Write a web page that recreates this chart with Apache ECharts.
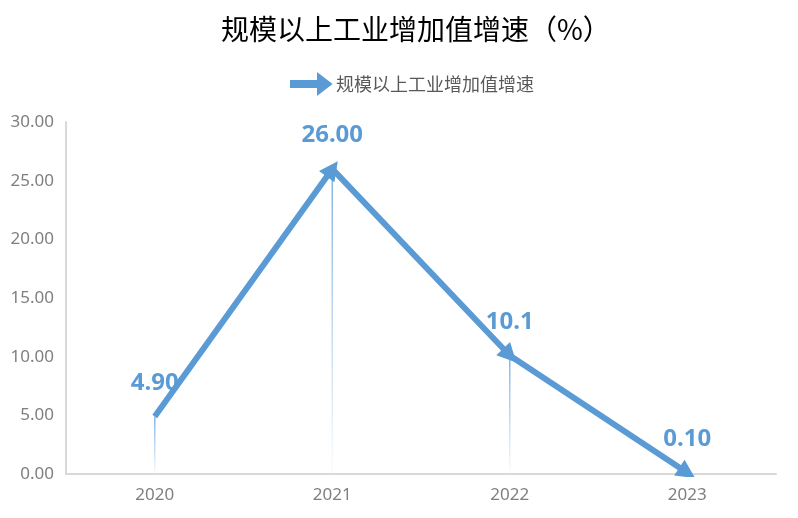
<!DOCTYPE html>
<html>
<head>
<meta charset="utf-8">
<script src="https://cdn.jsdelivr.net/npm/echarts@6/dist/echarts.min.js"></script>
<style>
  html, body { margin: 0; padding: 0; background: #fff; }
  #chart { width: 798px; height: 518px; }
</style>
</head>
<body>
<div id="chart"></div>
<script>
const years = ['2020', '2021', '2022', '2023'];
const growth = [4.9, 26.0, 10.1, 0.1];
const growthLabels = ['4.90', '26.00', '10.1', '0.10'];
const seriesName = '规模以上工业增加值增速';

const blue = '#5B9BD5';
const chart = echarts.init(document.getElementById('chart'));

// one arrow per segment, point to point
let arrows = [];
for (let i = 0; i < growth.length - 1; i++) {
    arrows.push({ coords: [[i, growth[i]], [i + 1, growth[i + 1]]] });
}

const option = {
    animation: false,
    title: {
        text: '规模以上工业增加值增速（%）',
        left: 216,
        top: 10,
        textStyle: {
            fontFamily: 'Noto Sans CJK SC',
            fontSize: 28,
            fontWeight: 'normal',
            color: '#000'
        }
    },
    legend: {
        top: 68,
        left: 285,
        itemWidth: 40,
        itemHeight: 20,
        itemGap: 6,
        data: [{
            name: seriesName,
            icon: 'path://M0,7 L27,7 L27,0 L40,10 L27,20 L27,13 L0,13 Z',
            itemStyle: { color: blue }
        }],
        textStyle: {
            fontFamily: 'Noto Sans CJK SC',
            fontSize: 18,
            color: '#595959'
        }
    },
    grid: {
        left: 66,
        right: 22,
        top: 122,
        bottom: 44
    },
    xAxis: {
        type: 'category',
        data: years,
        boundaryGap: true,
        axisLine: { lineStyle: { color: '#d9d9d9', width: 2 } },
        axisTick: { show: false },
        axisLabel: {
            fontFamily: 'Noto Sans',
            fontSize: 17,
            color: '#7f7f7f',
            margin: 13
        }
    },
    yAxis: {
        type: 'value',
        min: 0,
        max: 30,
        interval: 5,
        axisLine: { show: true, lineStyle: { color: '#d9d9d9', width: 2 } },
        axisTick: { show: false },
        splitLine: { show: false },
        axisLabel: {
            fontFamily: 'Noto Sans',
            fontSize: 17,
            color: '#7f7f7f',
            margin: 12,
            formatter: v => v.toFixed(2)
        }
    },
    series: [
        {
            // thin drop lines fading down to the axis
            type: 'bar',
            barWidth: 1.5,
            silent: true,
            data: growth,
            itemStyle: {
                color: new echarts.graphic.LinearGradient(0, 0, 0, 1, [
                    { offset: 0, color: 'rgba(91,155,213,0.75)' },
                    { offset: 1, color: 'rgba(91,155,213,0.02)' }
                ])
            },
            z: 1
        },
        {
            name: seriesName,
            type: 'lines',
            coordinateSystem: 'cartesian2d',
            data: arrows,
            symbol: ['none', 'triangle'],
            symbolSize: [17, 19],
            symbolOffset: [0, 9],
            lineStyle: { color: blue, width: 6, opacity: 1 },
            z: 3
        },
        {
            type: 'line',
            data: growth,
            symbol: 'circle',
            symbolSize: 1,
            itemStyle: { color: 'rgba(0,0,0,0)' },
            lineStyle: { width: 0, color: 'rgba(0,0,0,0)' },
            label: {
                show: true,
                position: 'top',
                distance: 21,
                fontFamily: 'Noto Sans',
                fontSize: 24,
                fontWeight: 'bold',
                color: blue,
                formatter: p => growthLabels[p.dataIndex]
            },
            z: 4
        }
    ]
};

chart.setOption(option);
</script>
</body>
</html>
